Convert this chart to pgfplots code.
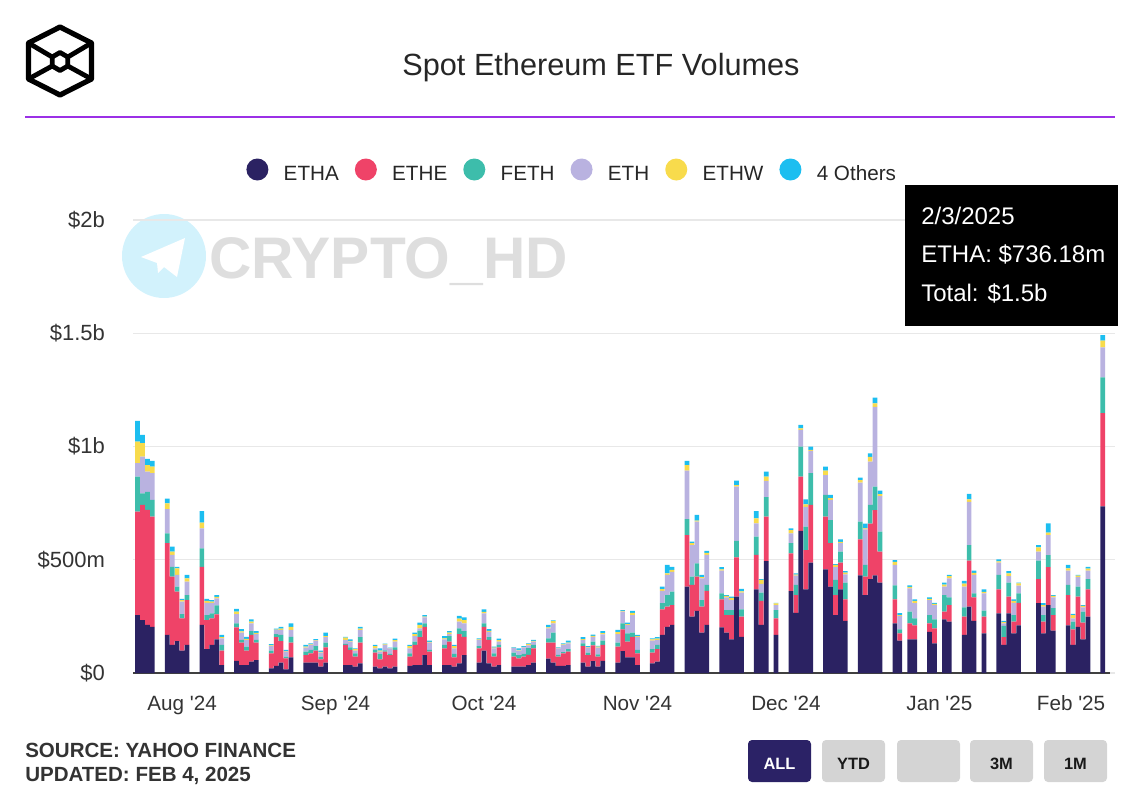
\documentclass[border=0pt]{standalone}
\usepackage{fontspec}
\setmainfont{Liberation Sans}
\usepackage{pgfplots}
\usepackage{pgfplotstable}
\pgfplotsset{compat=1.18}

\definecolor{cETHA}{HTML}{2B2262}
\definecolor{cETHE}{HTML}{EF4368}
\definecolor{cFETH}{HTML}{3DBDAB}
\definecolor{cETH}{HTML}{B9B2E0}
\definecolor{cETHW}{HTML}{F8DB4C}
\definecolor{cOTH}{HTML}{1CBEF0}
\definecolor{rulec}{HTML}{9B30E6}
\definecolor{gridc}{HTML}{E8E8E8}
\definecolor{footc}{HTML}{333333}
\definecolor{btn}{HTML}{D4D4D4}
\definecolor{btnsel}{HTML}{2B2266}

% d = days since 23 Jul 2024; values in $m: ETHA ETHE FETH ETH ETHW Others
\pgfplotstableread{
d a e f h w o
0 256 456 155 60 94 92
1 234 508 51 162 60 36
2 212 508 80 89 29 27
3 204 486 74 119 28 26
6 168 405 44 106 26 21
7 124 301 44 52 15 22
8 141 218 22 52 29 7
9 99 142 19 55 7 5
10 124 198 22 59 15 15
13 212 257 81 89 25 51
14 105 129 22 54 9 8
15 124 117 22 47 5 7
16 149 110 40 30 7 8
17 35 64 25 29 5 10
20 54 148 17 41 11 12
21 35 99 12 32 6 10
22 35 64 17 30 5 9
23 50 118 17 34 8 10
24 57 77 12 26 5 8
27 21 66 12 20 3 5
28 31 127 14 18 2 4
29 46 95 27 22 6 8
30 16 49 7 22 3 5
31 69 65 26 30 14 15
34 46 33 15 18 4 8
35 46 41 15 22 2 5
36 46 53 20 24 2 5
37 28 32 12 18 3 6
38 46 67 21 24 5 15
42 35 89 5 17 10 4
43 35 67 11 25 4 7
44 28 44 15 12 6 4
45 43 91 24 32 6 8
48 28 62 12 7 10 5
49 21 39 23 11 5 10
50 28 66 6 24 2 4
51 21 58 5 25 1 2
52 28 74 11 25 7 7
55 31 41 15 22 10 5
56 35 89 14 25 9 6
57 35 123 29 10 15 10
58 79 125 15 27 3 7
59 35 59 8 32 3 6
62 35 74 15 25 4 10
63 35 103 25 9 6 7
64 28 41 15 25 10 5
65 43 129 25 30 13 12
66 79 81 25 34 15 12
69 46 63 10 27 3 4
70 99 105 15 44 7 11
71 43 103 12 24 4 8
72 28 44 15 22 3 4
73 35 78 11 14 7 7
76 28 44 18 20 1 2
77 28 37 14 20 3 7
78 28 44 13 28 2 4
79 35 45 30 12 5 4
80 46 63 15 14 4 4
83 63 71 19 44 5 10
84 46 88 44 41 10 3
85 31 41 8 29 2 2
86 31 56 5 32 2 5
87 35 59 11 26 3 9
90 46 73 12 15 4 8
91 28 51 11 22 2 5
92 52 70 16 22 4 6
93 28 44 10 30 4 4
94 54 70 19 28 5 9
97 46 70 18 38 8 10
98 97 96 26 52 3 4
99 69 69 37 37 4 6
100 69 91 18 78 9 9
101 35 52 15 58 3 5
104 43 47 15 38 6 4
105 50 55 19 22 6 6
106 168 113 27 55 7 11
107 204 89 51 89 7 37
108 212 88 59 88 8 14
111 381 228 70 214 25 19
112 249 140 36 140 8 7
113 274 151 59 184 5 25
114 178 115 29 96 5 10
115 212 151 26 132 9 9
118 202 123 27 100 6 9
119 178 78 22 56 6 4
120 149 107 22 44 10 5
121 337 174 72 240 7 19
122 160 89 32 74 5 11
125 369 152 81 59 22 32
126 212 107 36 38 18 3
127 494 196 86 72 19 22
129 168 73 37 22 7 3
132 362 166 45 44 14 8
133 266 78 45 41 4 6
134 628 239 132 74 7 15
135 369 174 103 88 11 22
136 487 255 140 99 4 14
139 458 232 96 88 19 18
140 381 192 102 89 8 14
141 256 88 67 56 10 4
142 369 118 49 37 6 11
143 230 95 74 37 7 7
146 431 159 78 172 12 11
147 344 81 52 157 5 21
148 414 246 82 191 21 16
149 431 288 104 352 15 26
150 399 137 88 157 9 15
153 219 106 62 90 14 7
154 143 32 18 59 4 8
156 149 70 52 103 6 7
157 149 61 31 67 10 7
160 182 37 37 66 5 7
161 131 66 40 63 5 5
163 237 34 73 37 9 9
164 227 73 34 84 10 5
167 168 81 41 91 14 12
168 293 203 69 191 11 24
169 230 104 18 81 9 10
171 175 74 26 77 6 11
174 263 106 64 54 6 9
175 124 34 50 11 6 5
176 263 74 62 29 12 10
177 175 52 29 54 8 7
178 210 100 42 34 10 3
182 308 106 82 40 19 10
183 175 52 29 37 7 8
184 300 167 53 89 11 41
185 187 69 30 48 6 4
188 210 134 45 63 10 15
189 124 69 34 14 15 5
190 204 133 44 42 7 3
191 149 73 49 19 6 4
192 249 120 45 38 9 8
195 736 411 158 133 29 25
}\etfdata

\begin{document}
\begin{tikzpicture}
\path[use as bounding box] (0,0) rectangle (852pt,-597pt);

\begin{scope}[x=0.75pt,y=-0.75pt]
  % logo
  \draw[line width=3.9pt, line join=round]
    (60,27)--(91.5,43)--(91.5,79)--(60,95)--(28.5,79)--(28.5,43)--cycle;
  \draw[line width=3.6pt, line join=round]
    (60,52.5)--(67.8,57)--(67.8,66)--(60,70.5)--(52.2,66)--(52.2,57)--cycle;
  \draw[line width=3.6pt, line cap=round]
    (28.5,43)--(52.2,57) (91.5,43)--(67.8,57)
    (28.5,79)--(52.2,66) (91.5,79)--(67.8,66);
  % title and rule
  \node[anchor=base, inner sep=0, font=\fontsize{23}{28}\selectfont, text=black!85] at (601,75) {Spot Ethereum ETF Volumes};
  \draw[rulec, line width=1.4pt] (25,117)--(1115,117);
  % watermark
  \fill[cOTH!20] (164,256) circle (42);
  \fill[white] (141,257) -- (185,238) -- (177,277) -- (164,267) -- (158,273) -- (157,263) -- cycle;
  \node[anchor=base west, inner sep=0, font=\bfseries\fontsize{44}{50}\selectfont, text=black!13] at (209,278) {CRYPTO\_HD};
  % footer
  \node[anchor=base west, inner sep=0, font=\bfseries\fontsize{15.4}{18}\selectfont, text=footc] at (25,757.5) {SOURCE: YAHOO FINANCE};
  \node[anchor=base west, inner sep=0, font=\bfseries\fontsize{15.4}{18}\selectfont, text=footc] at (25,781.5) {UPDATED: FEB 4, 2025};
  % range buttons
  \fill[btnsel, rounded corners=3pt] (748,740) rectangle (811,782);
  \fill[btn, rounded corners=3pt] (822,740) rectangle (885,782);
  \fill[btn, rounded corners=3pt] (897,740) rectangle (960,782);
  \fill[btn, rounded corners=3pt] (970,740) rectangle (1033,782);
  \fill[btn, rounded corners=3pt] (1044,740) rectangle (1107,782);
  \node[anchor=base, inner sep=0, font=\bfseries\fontsize{12.3}{14}\selectfont, text=white] at (779.5,769) {ALL};
  \node[anchor=base, inner sep=0, font=\bfseries\fontsize{12.3}{14}\selectfont, text=black!90] at (853.5,769) {YTD};
  \node[anchor=base, inner sep=0, font=\bfseries\fontsize{12.3}{14}\selectfont, text=black!90] at (1001.5,769) {3M};
  \node[anchor=base, inner sep=0, font=\bfseries\fontsize{12.3}{14}\selectfont, text=black!90] at (1075.5,769) {1M};
\end{scope}

\begin{axis}[
  at={(99.75pt,-504.75pt)}, anchor=south west,
  scale only axis, width=736.5pt, height=339.75pt,
  xmin=-0.91, xmax=197.47, ymin=0, ymax=2000,
  ybar stacked, bar width=0.95,
  axis line style={draw=none},
  major tick length=0pt,
  ymajorgrids, grid style={gridc, line width=0.8pt},
  ytick={0,500,1000,1500,2000},
  yticklabels={\$0,\$500m,\$1b,\$1.5b,\$2b},
  yticklabel style={font=\fontsize{16.5}{19}\selectfont, text=footc, anchor=east, xshift=-17.5pt},
  xtick={9,40,70,101,131,162,188.6},
  xticklabels={Aug \textquotesingle 24,Sep \textquotesingle 24,Oct \textquotesingle 24,Nov \textquotesingle 24,Dec \textquotesingle 24,Jan \textquotesingle 25,Feb \textquotesingle 25},
  xticklabel style={font=\fontsize{15.5}{18}\selectfont, text=footc, yshift=-13.5pt},
  legend columns=-1,
  legend style={at={(0.4476,1.106)}, anchor=center, draw=none, fill=none,
    font=\fontsize{15.5}{18}\selectfont, text=black!85,
    /tikz/every odd column/.append style={column sep=9.5pt},
    /tikz/every even column/.append style={column sep=10pt}},
  legend image code/.code={\fill[#1] (0pt,0.36em) circle (8.25pt);},
]
\addplot[fill=cETHA, draw=none] table[x=d,y=a] {\etfdata};
\addplot[fill=cETHE, draw=none] table[x=d,y=e] {\etfdata};
\addplot[fill=cFETH, draw=none] table[x=d,y=f] {\etfdata};
\addplot[fill=cETH, draw=none] table[x=d,y=h] {\etfdata};
\addplot[fill=cETHW, draw=none] table[x=d,y=w] {\etfdata};
\addplot[fill=cOTH, draw=none] table[x=d,y=o] {\etfdata};
\legend{ETHA,ETHE,FETH,ETH,ETHW,4 Others}
\draw[black!75, line width=1.1pt] (axis cs:-0.91,0) -- (axis cs:196.4,0);
\end{axis}

\begin{scope}[x=0.75pt,y=-0.75pt]
  % tooltip
  \fill[black] (905,185) rectangle (1118,326);
  \node[anchor=base west, inner sep=0, font=\fontsize{18}{22}\selectfont, text=white] at (921,224.5) {2/3/2025};
  \node[anchor=base west, inner sep=0, font=\fontsize{18}{22}\selectfont, text=white] at (921,262.5) {ETHA: \$736.18m};
  \node[anchor=base west, inner sep=0, font=\fontsize{18}{22}\selectfont, text=white] at (921,301.5) {Total: \$1.5b};
\end{scope}
\end{tikzpicture}
\end{document}
